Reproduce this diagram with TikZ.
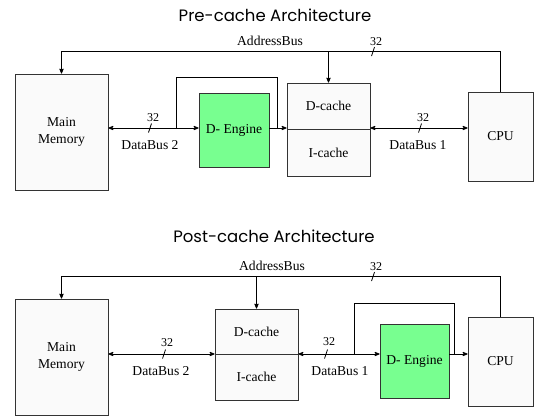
\documentclass[tikz,border=0pt]{standalone}
\usepackage{fontspec}
\setmainfont{Liberation Serif}
\newfontfamily\titlefont{Poppins}
\usetikzlibrary{arrows}
\definecolor{enginegreen}{RGB}{120,255,144}
\definecolor{boxfill}{RGB}{250,250,250}

\begin{document}
\begin{tikzpicture}[x=1pt,y=-1pt,>=stealth',line width=0.8pt,
	block/.style={draw=black!80,fill=boxfill,inner sep=0pt,align=center,
		font=\fontsize{13.6}{17}\selectfont},
	engine/.style={block,fill=enginegreen},
	label text/.style={inner sep=0pt,font=\fontsize{13.6}{17}\selectfont},
	width text/.style={inner sep=0pt,font=\fontsize{12}{14}\selectfont},
	title text/.style={inner sep=0pt,font=\titlefont\fontsize{16.5}{19}\selectfont}]
	\useasboundingbox (0,0) rectangle (540,416);
	
	% Pre-cache
	\node[title text] (t1) at (275,15) {Pre-cache Architecture};
	\node[block,minimum width=93pt,minimum height=116pt] (mm1) at (61.5,132) {Main\\Memory};
	\node[engine,minimum width=70pt,minimum height=74pt] (eng1) at (234,130) {D- Engine};
	\node[block,minimum width=83pt,minimum height=46.5pt] (dc1) at (328.5,106.25) {D-cache};
	\node[block,minimum width=83pt,minimum height=46.5pt] (ic1) at (328.5,152.75) {I-cache};
	\node[block,minimum width=65pt,minimum height=89pt] (cpu1) at (500.5,136.5) {CPU};
	\coordinate (bus1) at (0,128);
	\coordinate (addr1) at (0,51);
	\coordinate (tap1) at (176,128);
	\coordinate (tapr1) at (277,128);
	
	\draw[->] (cpu1.north) |- (mm1.north |- addr1) -- (mm1.north);
	\draw[->] (dc1.north |- addr1) -- (dc1.north);
	\draw[<->] (mm1.east |- bus1) -- (eng1.west |- bus1);
	\draw (eng1.east |- bus1) -- (tapr1);
	\draw[->] (tap1) -- ++(0,-51) -| (tapr1) -- (dc1.west |- bus1);
	\draw[<->] (ic1.east |- bus1) -- (cpu1.west |- bus1);
	
	\node[label text] (ab1) at (270,41) {AddressBus};
	\node[width text] (wa1) at (376,42) {32};
	\draw (371.5,56) -- (374.5,47);
	\node[width text] (wd2) at (153,118) {32};
	\draw (148.5,132.5) -- (151.5,123.5);
	\node[label text] (db2) at (150,145) {DataBus 2};
	\node[width text] (wd1) at (423,118) {32};
	\draw (418.5,132.5) -- (421.5,123.5);
	\node[label text] (db1) at (418,145) {DataBus 1};
	
	% Post-cache
	\node[title text] (t2) at (274,236) {Post-cache Architecture};
	\node[block,minimum width=93pt,minimum height=116pt] (mm2) at (61.5,357) {Main\\Memory};
	\node[block,minimum width=83pt,minimum height=45pt] (dc2) at (256.5,331.5) {D-cache};
	\node[block,minimum width=83pt,minimum height=46pt] (ic2) at (256.5,377) {I-cache};
	\node[engine,minimum width=69pt,minimum height=74pt] (eng2) at (414.5,361) {D- Engine};
	\node[block,minimum width=65pt,minimum height=89pt] (cpu2) at (500.5,361.5) {CPU};
	\coordinate (bus2) at (0,354);
	\coordinate (addr2) at (0,276);
	\coordinate (tap2) at (354,354);
	\coordinate (tapr2) at (454,354);
	
	\draw[->] (cpu2.north) |- (mm2.north |- addr2) -- (mm2.north);
	\draw[->] (dc2.north |- addr2) -- (dc2.north);
	\draw[<->] (mm2.east |- bus2) -- (dc2.west |- bus2);
	\draw[<->] (ic2.east |- bus2) -- (eng2.west |- bus2);
	\draw (eng2.east |- bus2) -- (tapr2);
	\draw[->] (tap2) -- ++(0,-51) -| (tapr2) -- (cpu2.west |- bus2);
	
	\node[label text] (ab2) at (272,266) {AddressBus};
	\node[width text] (wa2) at (376,267) {32};
	\draw (371.5,281) -- (374.5,272);
	\node[width text] (wd4) at (167,343) {32};
	\draw (162.5,358.5) -- (165.5,349.5);
	\node[label text] (db4) at (161,371) {DataBus 2};
	\node[width text] (wd3) at (329,342) {32};
	\draw (324.5,358.5) -- (327.5,349.5);
	\node[label text] (db3) at (340,371) {DataBus 1};
\end{tikzpicture}
\end{document}
